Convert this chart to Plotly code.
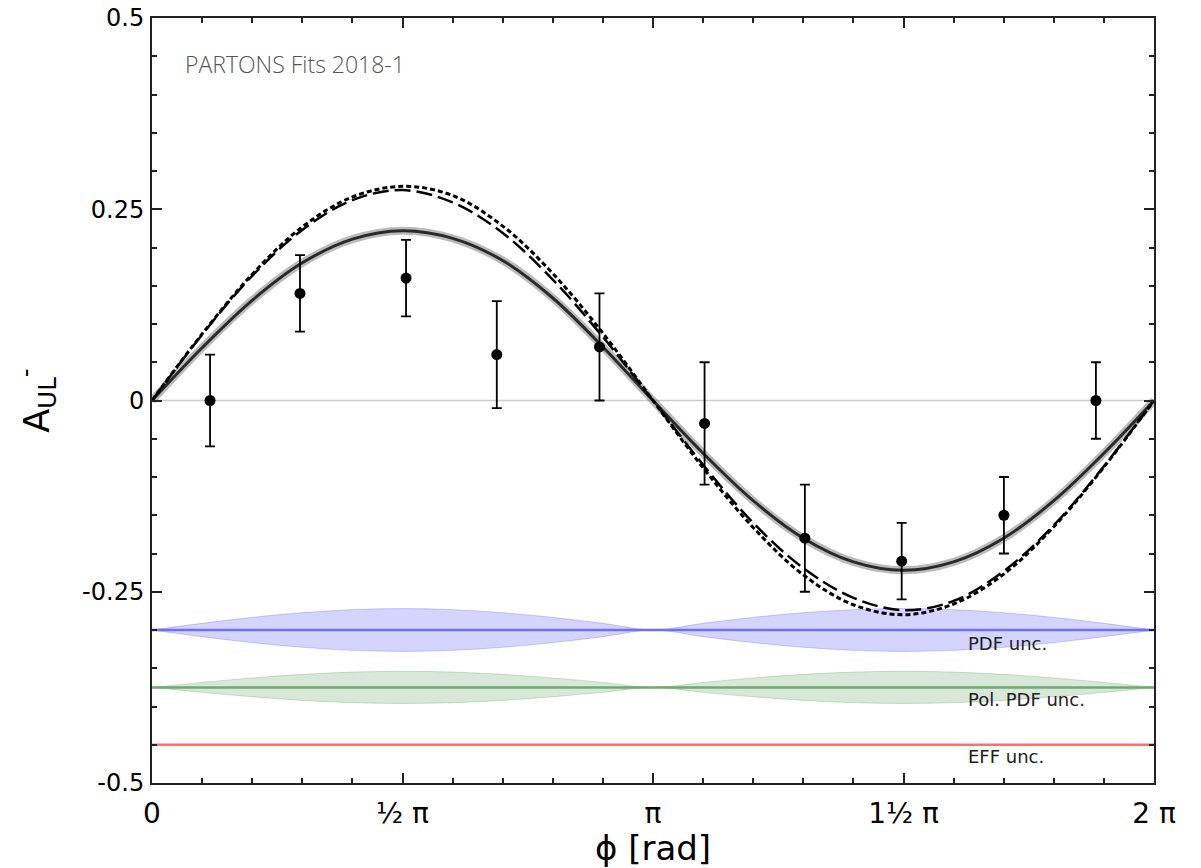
import numpy as np
import plotly.graph_objects as go

PI = np.pi

# Measured asymmetry (azimuthal bins)
phi_data = [0.364, 0.928, 1.593, 2.162, 2.806, 3.465, 4.094, 4.701, 5.342, 5.919]
a_data = [0.00, 0.14, 0.16, 0.06, 0.07, -0.03, -0.18, -0.21, -0.15, 0.00]
a_err = [0.06, 0.05, 0.05, 0.07, 0.07, 0.08, 0.07, 0.05, 0.05, 0.05]

# Model predictions tabulated every pi/10
grid_steps = list(range(21))
fit_solid = [0.0, 0.069, 0.131, 0.180, 0.211, 0.222, 0.212, 0.183, 0.134, 0.070, 0.0,
             -0.069, -0.131, -0.180, -0.211, -0.222, -0.211, -0.180, -0.131, -0.069, 0.0]
fit_dashed = [0.0, 0.086, 0.163, 0.223, 0.262, 0.275, 0.259, 0.219, 0.158, 0.083, 0.0,
              -0.084, -0.160, -0.219, -0.258, -0.274, -0.262, -0.223, -0.163, -0.086, 0.0]
fit_dotted = [0.0, 0.087, 0.165, 0.227, 0.266, 0.280, 0.268, 0.228, 0.166, 0.088, 0.0,
              -0.088, -0.166, -0.228, -0.267, -0.280, -0.266, -0.227, -0.165, -0.087, 0.0]

# Uncertainty bands (offset baseline and half-width)
pdf_level = -0.30
pdf_half = [0.0, 0.0087, 0.0165, 0.0226, 0.0266, 0.028, 0.0266, 0.0226, 0.0165, 0.0087, 0.0,
            0.0087, 0.0165, 0.0226, 0.0266, 0.028, 0.0266, 0.0226, 0.0165, 0.0087, 0.0]
pol_level = -0.375
pol_half = [0.0, 0.0065, 0.0123, 0.0170, 0.0200, 0.021, 0.0200, 0.0170, 0.0123, 0.0065, 0.0,
            0.0065, 0.0123, 0.0170, 0.0200, 0.021, 0.0200, 0.0170, 0.0123, 0.0065, 0.0]
eff_level = -0.45

band_labels = ["PDF unc.", "Pol. PDF unc.", "EFF unc."]

x_tick_vals = [0, PI / 2, PI, 1.5 * PI, 2 * PI]
x_tick_text = ["0", "½ π", "π", "1½ π", "2 π"]
y_tick_vals = [0.5, 0.25, 0, -0.25, -0.5]
y_tick_text = ["0.5", "0.25", "0", "-0.25", "-0.5"]

phi_grid = [k * PI / 10 for k in grid_steps]

fig = go.Figure()


def add_band(level, half, fill, edge, center):
    lo = [level - h for h in half]
    hi = [level + h for h in half]
    fig.add_trace(go.Scatter(x=phi_grid, y=lo, mode="lines", line=dict(color=edge, width=1, shape="spline"),
                             showlegend=False, hoverinfo="skip"))
    fig.add_trace(go.Scatter(x=phi_grid, y=hi, mode="lines", line=dict(color=edge, width=1, shape="spline"),
                             fill="tonexty", fillcolor=fill, showlegend=False, hoverinfo="skip"))
    fig.add_trace(go.Scatter(x=[phi_grid[0], phi_grid[-1]], y=[level, level], mode="lines",
                             line=dict(color=center, width=2.5), showlegend=False, hoverinfo="skip"))


add_band(pdf_level, pdf_half, "rgba(60,60,255,0.22)", "rgba(60,60,255,0.25)", "rgb(110,110,255)")
add_band(pol_level, pol_half, "rgba(40,130,40,0.18)", "rgba(40,130,40,0.22)", "rgb(110,170,110)")
fig.add_trace(go.Scatter(x=[phi_grid[0], phi_grid[-1]], y=[eff_level, eff_level], mode="lines",
                         line=dict(color="rgb(255,110,110)", width=2.5), showlegend=False, hoverinfo="skip"))

# zero reference line
fig.add_trace(go.Scatter(x=[0, 2 * PI], y=[0, 0], mode="lines",
                         line=dict(color="#cccccc", width=1.5), showlegend=False, hoverinfo="skip"))

# fitted predictions
fig.add_trace(go.Scatter(x=phi_grid, y=fit_solid, mode="lines",
                         line=dict(color="rgba(60,60,60,0.35)", width=8, shape="spline"),
                         showlegend=False, hoverinfo="skip"))
fig.add_trace(go.Scatter(x=phi_grid, y=fit_solid, mode="lines",
                         line=dict(color="#2a2a2a", width=3, shape="spline"), showlegend=False))
fig.add_trace(go.Scatter(x=phi_grid, y=fit_dashed, mode="lines",
                         line=dict(color="black", width=2.5, shape="spline", dash="16px,6px"),
                         showlegend=False))
fig.add_trace(go.Scatter(x=phi_grid, y=fit_dotted, mode="lines",
                         line=dict(color="black", width=3, shape="spline", dash="5px,3px"),
                         showlegend=False))

# data points
fig.add_trace(go.Scatter(x=phi_data, y=a_data, mode="markers",
                         marker=dict(color="black", size=11),
                         error_y=dict(type="data", array=a_err, color="black", thickness=1.8, width=5),
                         showlegend=False))

label_y = [-0.317, -0.391, -0.465]
for txt, yv in zip(band_labels, label_y):
    fig.add_annotation(x=5.104, y=yv, xref="x", yref="y", text=txt, showarrow=False,
                       xanchor="left", yanchor="middle",
                       font=dict(family="DejaVu Sans", size=18, color="#222222"))

fig.add_annotation(x=0.031, y=0.94, xref="paper", yref="paper", text="PARTONS Fits 2018-1",
                   showarrow=False, xanchor="left", yanchor="middle",
                   font=dict(family="Open Sans", size=23, color="#555555", weight=300))

axis_common = dict(showline=True, linecolor="#222222", linewidth=2, mirror="allticks",
                   ticks="inside", tickcolor="#222222", tickwidth=1.5, ticklen=10,
                   showgrid=False, zeroline=False, automargin=False)

fig.update_xaxes(range=[0, 2 * PI], tickmode="array", tickvals=x_tick_vals, ticktext=x_tick_text,
                 minor=dict(tickvals=[k * PI / 10 for k in range(21)], ticks="inside", ticklen=5,
                            tickcolor="#222222", tickwidth=1.5, showgrid=False),
                 tickfont=dict(family="DejaVu Sans", size=28, color="black"),
                 title=dict(text="ϕ [rad]", font=dict(family="DejaVu Sans", size=34, color="black"),
                            standoff=2),
                 ticklabelstandoff=4, **axis_common)
fig.update_yaxes(range=[-0.5, 0.5], tickmode="array", tickvals=y_tick_vals, ticktext=y_tick_text,
                 minor=dict(tickvals=[round(-0.5 + 0.05 * i, 2) for i in range(21)], ticks="inside",
                            ticklen=5, tickcolor="#222222", tickwidth=1.5, showgrid=False),
                 tickfont=dict(family="DejaVu Sans", size=24, color="black"),
                 title=dict(text="A<sub>UL</sub><sup>-</sup>",
                            font=dict(family="DejaVu Sans", size=35, color="black"), standoff=22),
                 ticklabelstandoff=1, **axis_common)

fig.update_layout(width=1201, height=868, margin=dict(l=152, r=47, t=18, b=85),
                  plot_bgcolor="white", paper_bgcolor="white", showlegend=False)

fig.write_html("out.html")
